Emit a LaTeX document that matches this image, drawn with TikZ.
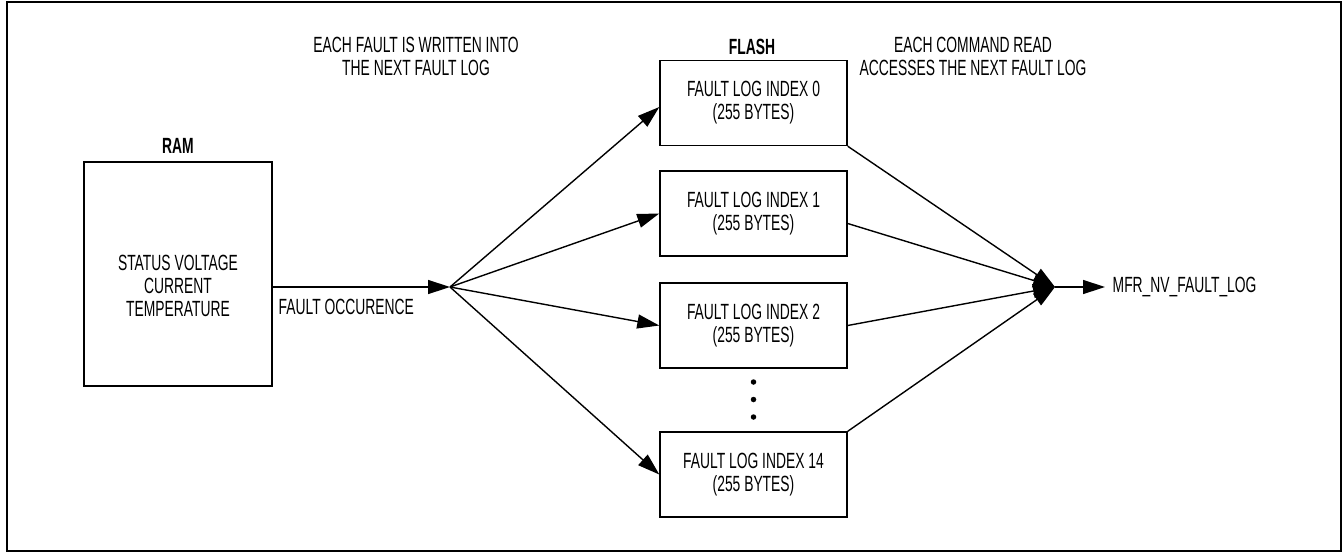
\documentclass[tikz,border=0pt]{standalone}
\usepackage{fontspec}
\setmainfont[FakeStretch=0.63]{Liberation Sans}
\usetikzlibrary{arrows.meta}
\begin{document}
\begin{tikzpicture}[x=1pt,y=-1pt,
  font=\fontsize{22}{23}\selectfont,
  line width=1.4pt,
  box/.style={draw, line width=1.4pt, minimum width=187pt, minimum height=85pt, align=center, inner sep=0pt},
  lbl/.style={align=center, inner sep=0pt},
  bold/.style={font=\fontsize{22}{23}\selectfont\bfseries},
  arr/.style={-{Triangle[length=22pt,width=14pt]}},
  dotc/.style={circle, fill, inner sep=0pt, minimum size=5.5pt}]
\useasboundingbox (0,0) rectangle (1343,552);
\draw[line width=2pt] (7,1.5) rectangle (1341,550.5);
% RAM
\node[box, minimum width=188pt, minimum height=224pt] (ram) at (178,274) {};
\node[lbl] (ramtxt) at (178,286) {STATUS VOLTAGE\\CURRENT\\TEMPERATURE};
\node[lbl, bold] (ramlbl) at (178,146) {RAM};
\coordinate (fan) at (450,287);
\draw[arr] (ram.east |- fan) -- (fan);
\node[lbl, anchor=west] (occ) at (278,307) {FAULT OCCURENCE};
% FLASH
\node[lbl, bold] (flashlbl) at (752,47) {FLASH};
\node[box] (b0) at (753.5,103) {FAULT LOG INDEX 0\\(255 BYTES)};
\node[box] (b1) at (753.5,213.5) {FAULT LOG INDEX 1\\(255 BYTES)};
\node[box] (b2) at (753.5,325.5) {FAULT LOG INDEX 2\\(255 BYTES)};
\node[box] (b14) at (753.5,474.5) {FAULT LOG INDEX 14\\(255 BYTES)};
\node[dotc] (d1) at (753.5,382) {};
\node[dotc] (d2) at (753.5,399.5) {};
\node[dotc] (d3) at (753.5,417) {};
\draw[arr] (fan) -- ([yshift=-4pt]b0.west);
\draw[arr] (fan) -- (b1.west);
\draw[arr] (fan) -- (b2.west);
\draw[arr] (fan) -- (b14.west);
\coordinate (conv) at (1055,287);
\draw[arr] (b0.south east) -- (conv);
\draw[arr] ([yshift=-10pt]b1.east) -- (conv);
\draw[arr] (b2.east) -- (conv);
\draw[arr] (b14.north east) -- (conv);
\coordinate (out) at (1105,287);
\draw[arr] (conv) -- (out);
\node[lbl, anchor=west] (mfr) at (1112,287) {MFR\_NV\_FAULT\_LOG};
% top labels
\node[lbl] (t1) at (416,56) {EACH FAULT IS WRITTEN INTO\\THE NEXT FAULT LOG};
\node[lbl] (t2) at (973,56) {EACH COMMAND READ\\ACCESSES THE NEXT FAULT LOG};
\end{tikzpicture}
\end{document}
